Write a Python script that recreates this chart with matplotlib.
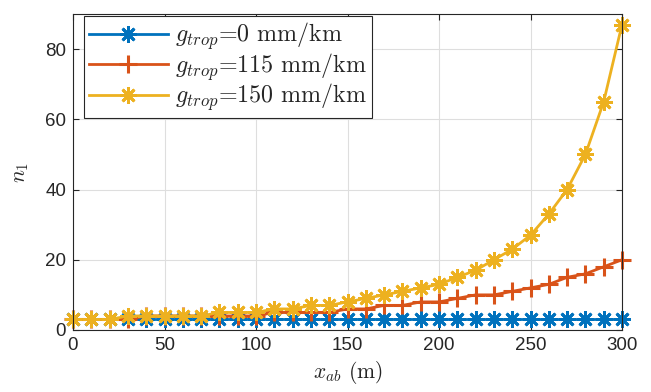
import matplotlib
matplotlib.use("Agg")
import matplotlib.pyplot as plt

plt.rcParams['font.family'] = ['Liberation Sans', 'DejaVu Sans']
plt.rcParams['mathtext.fontset'] = 'cm'

x_ab = [0, 10, 20, 30, 40, 50, 60, 70, 80, 90, 100, 110, 120, 130, 140, 150,
        160, 170, 180, 190, 200, 210, 220, 230, 240, 250, 260, 270, 280, 290, 300]
n1_g0 = [3] * 31
n1_g115 = [3, 3, 3, 3, 4, 4, 4, 4, 4, 4, 4, 5, 5, 5, 5, 6,
           6, 7, 7, 8, 8, 9, 10, 10, 11, 12, 13, 15, 16, 18, 20]
n1_g150 = [3, 3, 3, 4, 4, 4, 4, 4, 5, 5, 5, 6, 6, 7, 7, 8,
           9, 10, 11, 12, 13, 15, 17, 20, 23, 27, 33, 40, 50, 65, 87]
labels = [r'$g_{trop}$=0 mm/km',
          r'$g_{trop}$=115 mm/km',
          r'$g_{trop}$=150 mm/km']
xticks = [0, 50, 100, 150, 200, 250, 300]
yticks = [0, 20, 40, 60, 80]

c_blue = (0.0, 0.447, 0.741)
c_red = (0.85, 0.325, 0.098)
c_yel = (0.929, 0.694, 0.125)
dark = (0.15, 0.15, 0.15)

fig = plt.figure(figsize=(6.51, 3.92), dpi=100)
ax = fig.add_axes([73/651, 62/392, (622-73)/651, (330-14)/392])

ast = (8, 2, 0)
ax.plot(x_ab, n1_g0, color=c_blue, lw=2, marker=ast, ms=12, mew=2, label=labels[0], clip_on=False)
ax.plot(x_ab, n1_g115, color=c_red, lw=2, marker='+', ms=13, mew=2.2, label=labels[1], clip_on=False)
ax.plot(x_ab, n1_g150, color=c_yel, lw=2, marker=ast, ms=12, mew=2, label=labels[2], clip_on=False)

ax.set_xlim(0, 300)
ax.set_ylim(0, 90)
ax.set_xticks(xticks)
ax.set_yticks(yticks)
ax.grid(True, color=(0.87, 0.87, 0.87), lw=0.8)
ax.set_axisbelow(True)
ax.tick_params(direction='in', length=4, width=0.8, labelsize=13.5,
               colors=dark, top=True, right=True, pad=5)
for s in ax.spines.values():
    s.set_color(dark)
    s.set_linewidth(0.8)

ax.set_xlabel(r'$x_{ab}$ (m)', fontsize=15.5, labelpad=4, color=dark, family='cmr10')
ax.set_ylabel(r'$n_1$', fontsize=15.5, labelpad=10, color=dark)

leg = ax.legend(loc='upper left', bbox_to_anchor=(84/651, 1 - 16/392),
                bbox_transform=fig.transFigure,
                prop={'family': 'cmr10', 'size': 17.3}, handlelength=3.3, frameon=True,
                fancybox=False, edgecolor=dark, borderpad=0.2,
                labelspacing=-0.05, handletextpad=0.3, borderaxespad=0.0)
leg.get_frame().set_linewidth(0.8)
leg.get_frame().set_alpha(1)
for t in leg.get_texts():
    t.set_color(dark)

fig.savefig('out.png', dpi=100)
